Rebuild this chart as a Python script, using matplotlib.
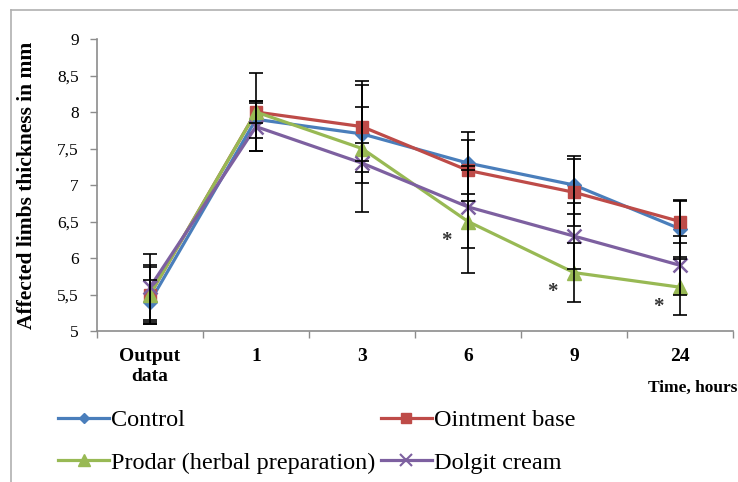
import numpy as np
import matplotlib.pyplot as plt
from matplotlib.lines import Line2D

plt.rcParams['font.family'] = ['Liberation Serif', 'DejaVu Serif']

categories = ['Output\ndata', '1', '3', '6', '9', '24']

control = [5.4, 7.9, 7.7, 7.3, 7.0, 6.4]
control_err = [0.3, 0.25, 0.37, 0.42, 0.4, 0.38]
ointment = [5.5, 8.0, 7.8, 7.2, 6.9, 6.5]
ointment_err = [0.4, 0.53, 0.62, 0.42, 0.46, 0.3]
prodar = [5.5, 8.0, 7.5, 6.5, 5.8, 5.6]
prodar_err = [0.38, 0.15, 0.87, 0.7, 0.4, 0.38]
dolgit = [5.6, 7.8, 7.3, 6.7, 6.3, 5.9]
dolgit_err = [0.45, 0.33, 0.27, 0.56, 0.45, 0.4]

# significant points (index into categories) for Prodar
star_idx = [3, 4, 5]

W, H = 738, 482
fig = plt.figure(figsize=(W / 100, H / 100), dpi=100)
ax = fig.add_axes([97 / W, 1 - 331 / H, (733 - 97) / W, (331 - 39) / H])

x = np.arange(len(categories))
series = [
    ('Control', control, control_err, '#4a7ebb', 'D', 7),
    ('Ointment base', ointment, ointment_err, '#be4b48', 's', 9),
    ('Prodar (herbal preparation)', prodar, prodar_err, '#98b954', '^', 10),
    ('Dolgit cream', dolgit, dolgit_err, '#7d60a0', 'x', 10),
]

handles = []
for name, vals, err, col, mk, ms in series:
    ax.errorbar(x, vals, yerr=err, fmt='none', ecolor='black', elinewidth=1.2,
                capsize=5, capthick=1.2, zorder=4)
    ln, = ax.plot(x, vals, color=col, lw=2.3, marker=mk, ms=ms,
                  mew=1.8 if mk == 'x' else 1, mec=col, zorder=3)
    handles.append(Line2D([], [], color=col, lw=2.3, marker=mk,
                          ms=ms * 0.8, mew=1.5 if mk == 'x' else 1, mec=col))

for i in star_idx:
    ax.text(i - 0.2, prodar[i] - 0.27, '*', ha='center', va='center',
            fontsize=15, fontweight='bold', color='#333333')

ax.set_xlim(-0.5, len(categories) - 0.5)
ax.set_ylim(5, 9)
ax.set_yticks(np.arange(5, 9.01, 0.5))
ax.set_yticklabels([f'{v:g}'.replace('.', ',') for v in np.arange(5, 9.01, 0.5)],
                   fontsize=12.5)
ax.set_xticks(x)
ax.set_xticklabels(categories, fontsize=14, fontweight='bold', linespacing=1.25)
ax.tick_params(axis='x', which='major', length=0, pad=12)
ax.set_xticks(np.arange(-0.5, len(categories), 1), minor=True)
ax.tick_params(axis='x', which='minor', length=5, color='#8c8c8c', width=1)
ax.tick_params(axis='y', length=5, color='#8c8c8c', width=1, pad=8)

for s in ['top', 'right']:
    ax.spines[s].set_visible(False)
for s in ['left', 'bottom']:
    ax.spines[s].set_color('#8c8c8c')
    ax.spines[s].set_linewidth(1.2)

fig.text(27 / W, 1 - 185 / H, 'Affected limbs thickness in mm', rotation=90,
         ha='center', va='center', fontsize=15.5, fontweight='bold')
fig.text(737 / W, 1 - 388 / H, 'Time, hours', ha='right', va='center',
         fontsize=12.5, fontweight='bold')

# legend fills column-wise: reorder so rows read Control/Ointment, Prodar/Dolgit
order = [0, 2, 1, 3]
fig.legend([handles[i] for i in order], [series[i][0] for i in order], ncol=2,
           loc='upper left', bbox_to_anchor=(58 / W, 1 - 409 / H), frameon=False,
           prop={'family': 'Liberation Serif', 'size': 17.5},
           handlelength=2.1, handletextpad=0.1, columnspacing=0.2,
           labelspacing=0.85, borderaxespad=0, borderpad=0)

# thin frame around the picture
fig.add_artist(Line2D([11 / W, 1], [1 - 10 / H, 1 - 10 / H], color='#b0b0b0', lw=1.2))
fig.add_artist(Line2D([11 / W, 11 / W], [0, 1 - 10 / H], color='#b0b0b0', lw=1.2))

fig.savefig('out.png', dpi=100)
